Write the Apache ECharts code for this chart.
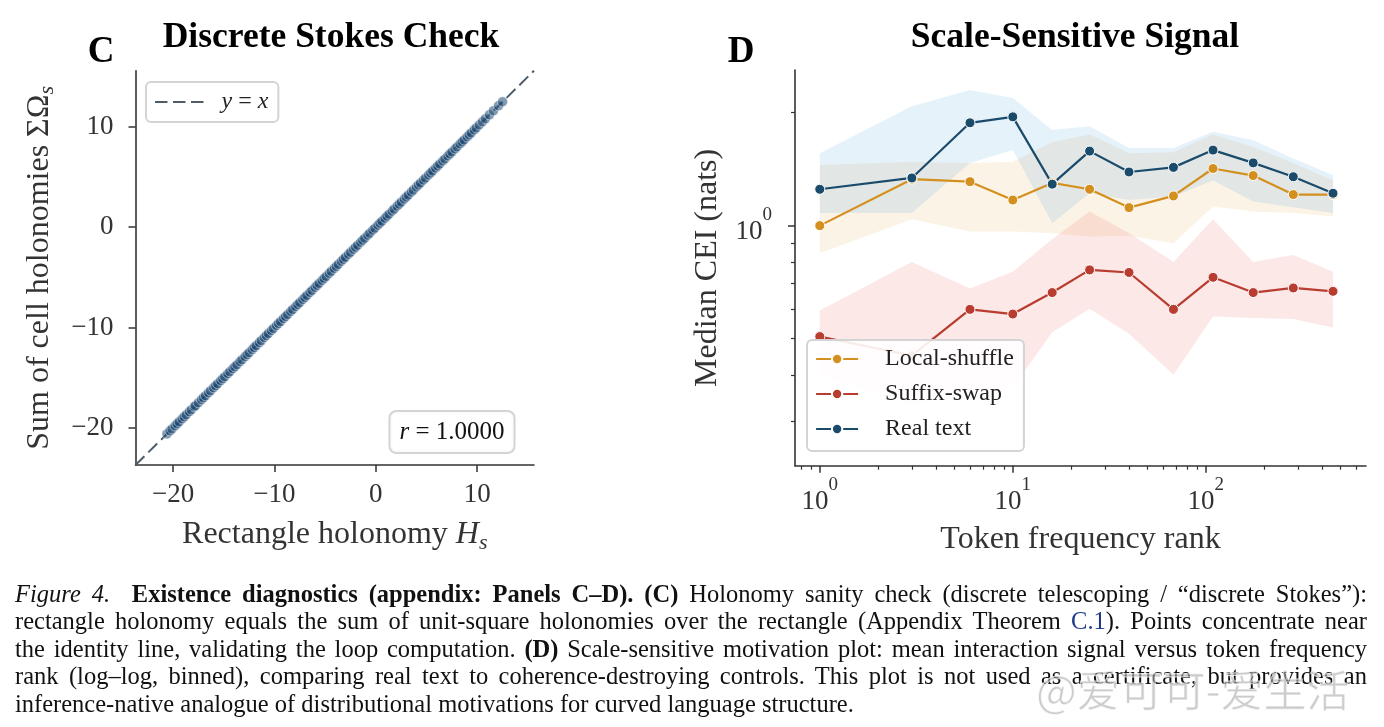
<!DOCTYPE html>
<html>
<head>
<meta charset="utf-8">
<script src="https://cdn.jsdelivr.net/npm/echarts@6/dist/echarts.min.js"></script>
<style>
html,body{margin:0;padding:0;background:#fff;}
#wrap{position:relative;width:1384px;height:727px;overflow:hidden;background:#fff;}
#chart{position:absolute;left:0;top:0;width:1384px;height:727px;}
.cap{position:absolute;left:15px;width:1352px;font-family:'Liberation Serif',serif;font-size:24.5px;line-height:27px;color:#111;text-align:justify;text-align-last:justify;white-space:nowrap;}
.cap.last{text-align-last:left;}
.cap b{font-weight:bold;}
.cap .lnk{color:#1f3a8a;}
#wm{position:absolute;left:1036px;top:662px;font-family:'Noto Sans CJK SC',sans-serif;font-size:43px;line-height:52px;color:rgba(170,170,170,0.6);-webkit-text-stroke:1px rgba(255,255,255,0.7);white-space:nowrap;}
</style>
</head>
<body>
<div id="wrap">
  <div id="chart"></div>
  <div class="cap" style="top:580px"><i>Figure 4.</i>&nbsp; <b>Existence diagnostics (appendix: Panels C–D). (C)</b> Holonomy sanity check (discrete telescoping / “discrete Stokes”):</div>
  <div class="cap" style="top:607px">rectangle holonomy equals the sum of unit-square holonomies over the rectangle (Appendix Theorem <span class="lnk">C.1</span>). Points concentrate near</div>
  <div class="cap" style="top:634.5px">the identity line, validating the loop computation. <b>(D)</b> Scale-sensitive motivation plot: mean interaction signal versus token frequency</div>
  <div class="cap" style="top:662px">rank (log–log, binned), comparing real text to coherence-destroying controls. This plot is not used as a certificate, but provides an</div>
  <div class="cap last" style="top:689.5px">inference-native analogue of distributional motivations for curved language structure.</div>
  <div id="wm">@爱可可-爱生活</div>
</div>
<script>
// ---------- Panel C data ----------
const rectHolonomy = [-20.6,-20.3,-20.1,-19.8,-19.6,-19.4,-19.1,-18.9,-18.7,-18.4,-18.2,-17.9,-17.8,-17.5,-17.2,-17.0,-16.8,-16.5,-16.3,-16.0,-15.8,-15.6,-15.3,-15.1,-14.9,-14.6,-14.4,-14.1,-13.9,-13.7,-13.4,-13.2,-12.9,-12.7,-12.5,-12.2,-12.0,-11.8,-11.5,-11.3,-11.0,-10.8,-10.6,-10.3,-10.1,-9.8,-9.6,-9.4,-9.1,-8.9,-8.7,-8.4,-8.2,-7.9,-7.7,-7.5,-7.2,-7.0,-6.8,-6.5,-6.3,-6.0,-5.8,-5.6,-5.3,-5.1,-4.9,-4.6,-4.4,-4.1,-3.9,-3.7,-3.4,-3.2,-3.0,-2.7,-2.5,-2.2,-2.0,-1.8,-1.5,-1.3,-1.1,-0.8,-0.6,-0.3,-0.1,0.2,0.4,0.6,0.9,1.1,1.3,1.6,1.8,2.1,2.3,2.5,2.8,3.0,3.2,3.5,3.7,4.0,4.2,4.4,4.7,4.9,5.2,5.4,5.6,5.9,6.1,6.3,6.6,6.8,7.1,7.3,7.5,7.8,8.0,8.3,8.5,8.7,9.0,9.2,9.4,9.7,9.9,10.2,10.5,10.8,11.2,11.6,12.1,12.5];
const cellHolonomySum = [-20.6,-20.3,-20.1,-19.8,-19.6,-19.4,-19.1,-18.9,-18.7,-18.4,-18.2,-17.9,-17.8,-17.5,-17.2,-17.0,-16.8,-16.5,-16.3,-16.0,-15.8,-15.6,-15.3,-15.1,-14.9,-14.6,-14.4,-14.1,-13.9,-13.7,-13.4,-13.2,-12.9,-12.7,-12.5,-12.2,-12.0,-11.8,-11.5,-11.3,-11.0,-10.8,-10.6,-10.3,-10.1,-9.8,-9.6,-9.4,-9.1,-8.9,-8.7,-8.4,-8.2,-7.9,-7.7,-7.5,-7.2,-7.0,-6.8,-6.5,-6.3,-6.0,-5.8,-5.6,-5.3,-5.1,-4.9,-4.6,-4.4,-4.1,-3.9,-3.7,-3.4,-3.2,-3.0,-2.7,-2.5,-2.2,-2.0,-1.8,-1.5,-1.3,-1.1,-0.8,-0.6,-0.3,-0.1,0.2,0.4,0.6,0.9,1.1,1.3,1.6,1.8,2.1,2.3,2.5,2.8,3.0,3.2,3.5,3.7,4.0,4.2,4.4,4.7,4.9,5.2,5.4,5.6,5.9,6.1,6.3,6.6,6.8,7.1,7.3,7.5,7.8,8.0,8.3,8.5,8.7,9.0,9.2,9.4,9.7,9.9,10.2,10.5,10.8,11.2,11.6,12.1,12.5];
const limitsC = [-23.7, 15.6];
const ticksC = [-20, -10, 0, 10];

// ---------- Panel D data ----------
const rankBins     = [1, 3, 6, 10, 16, 25, 40, 68, 109, 176, 284, 456];
const localShuffle = [1.00, 1.33, 1.31, 1.17, 1.30, 1.25, 1.117, 1.20, 1.42, 1.36, 1.21, 1.21];
const localLo      = [0.844, 1.04, 0.964, 0.964, 0.954, 0.935, 0.94, 0.898, 1.124, 1.09, 1.08, 1.057];
const localHi      = [1.45, 1.48, 1.47, 1.48, 1.67, 1.75, 1.56, 1.57, 1.75, 1.62, 1.47, 1.32];
const suffixSwap   = [0.506, 0.45, 0.598, 0.581, 0.663, 0.762, 0.75, 0.598, 0.728, 0.663, 0.682, 0.668];
const suffixLo     = [0.40, 0.33, 0.36, 0.37, 0.52, 0.60, 0.515, 0.40, 0.572, 0.567, 0.564, 0.535];
const suffixHi     = [0.594, 0.80, 0.68, 0.753, 0.92, 1.09, 0.956, 0.80, 1.04, 0.80, 0.835, 0.753];
const realText     = [1.25, 1.34, 1.88, 1.95, 1.29, 1.58, 1.39, 1.43, 1.59, 1.47, 1.35, 1.22];
const realLo       = [1.08, 1.08, 1.47, 1.59, 1.015, 1.22, 1.17, 1.195, 1.32, 1.16, 1.12, 1.08];
const realHi       = [1.56, 2.08, 2.30, 2.19, 1.80, 1.84, 1.61, 1.61, 1.78, 1.69, 1.51, 1.365];
const limitsDx = [0.744, 676];
const limitsDy = [0.229, 2.60];
const majorTicksDx = [1, 10, 100];
const minorTicksDx = [0.8, 0.9, 2, 3, 4, 5, 6, 7, 8, 9, 20, 30, 40, 50, 60, 70, 80, 90, 200, 300, 400, 500, 600];
const majorTicksDy = [1];
const minorTicksDy = [0.3, 0.4, 0.5, 0.6, 0.7, 0.8, 0.9, 2];

const FONT = 'Liberation Serif';
const AX = '#333333';
const TXT = '#333333';
const C_LOCAL = '#d4901f', C_SUFFIX = '#b83c2f', C_REAL = '#1b4b6b';

const chart = echarts.init(document.getElementById('chart'), null, {renderer: 'canvas'});

const minusFmt = v => String(v).replace('-', '\u2212');
const powFmt = v => '{b|10}{s|' + Math.round(Math.log10(v)) + '}';
const powRich = {
  b: {fontFamily: FONT, fontSize: 27, color: TXT, lineHeight: 40, verticalAlign: 'bottom'},
  s: {fontFamily: FONT, fontSize: 19, color: TXT, lineHeight: 19, verticalAlign: 'top'}
};
const nameRich = {
  it: {fontFamily: FONT, fontSize: 32, fontStyle: 'italic', color: TXT},
  sub: {fontFamily: FONT, fontSize: 22, fontStyle: 'italic', color: TXT, verticalAlign: 'bottom', lineHeight: 30}
};
const nameStyle = {fontFamily: FONT, fontSize: 32, color: TXT, lineHeight: 38, rich: nameRich};

function band(lo, hi, color) {
  return {
    type: 'custom', xAxisIndex: 1, yAxisIndex: 1, silent: true, z: 1,
    data: [[rankBins[0], lo[0]]],
    renderItem: function (params, api) {
      const pts = [];
      for (let i = 0; i < rankBins.length; i++) pts.push(api.coord([rankBins[i], hi[i]]));
      for (let i = rankBins.length - 1; i >= 0; i--) pts.push(api.coord([rankBins[i], lo[i]]));
      return {type: 'polygon', shape: {points: pts}, style: {fill: color, stroke: null}};
    }
  };
}
function lineD(name, vals, color) {
  return {
    name: name, type: 'line', xAxisIndex: 1, yAxisIndex: 1, z: 3,
    data: rankBins.map((r, i) => [r, vals[i]]),
    symbol: 'circle', symbolSize: 10, showSymbol: true,
    lineStyle: {color: color, width: 2.2},
    itemStyle: {color: color, borderColor: '#ffffff', borderWidth: 1},
    emphasis: {disabled: true}
  };
}

const option = {
  animation: false,
  backgroundColor: '#ffffff',
  title: [
    {text: 'Discrete Stokes Check', left: 331, top: 20, textAlign: 'center', padding: 0,
     textStyle: {fontFamily: FONT, fontWeight: 'bold', fontSize: 35.5, color: '#000'}},
    {text: 'Scale-Sensitive Signal', left: 1075, top: 20, textAlign: 'center', padding: 0,
     textStyle: {fontFamily: FONT, fontWeight: 'bold', fontSize: 35.5, color: '#000'}}
  ],
  legend: [
    {
      data: [{name: 'y = x', itemStyle: {opacity: 0}}],
      left: 146, top: 82, orient: 'vertical', selectedMode: false,
      itemWidth: 48.5, itemHeight: 14, padding: [8, 10, 8, 8],
      backgroundColor: 'rgba(255,255,255,0.85)', borderColor: '#d4d4d4', borderWidth: 2, borderRadius: 5,
      formatter: () => '{sp|}{i|y}{t| = }{i|x}',
      textStyle: {fontFamily: FONT, fontSize: 24, color: '#222',
        rich: {sp: {width: 13}, i: {fontFamily: FONT, fontSize: 24, fontStyle: 'italic', color: '#222'},
               t: {fontFamily: FONT, fontSize: 24, color: '#222'}}}
    },
    {
      data: ['Local-shuffle', 'Suffix-swap', 'Real text'],
      left: 807, top: 340, orient: 'vertical', selectedMode: false,
      itemWidth: 42, itemHeight: 13, itemGap: 11, padding: [7, 10, 10, 8],
      backgroundColor: 'rgba(255,255,255,0.9)', borderColor: '#d4d4d4', borderWidth: 2, borderRadius: 5,
      lineStyle: {width: 2.2},
      formatter: n => '{sp|}' + n,
      textStyle: {fontFamily: FONT, fontSize: 24, color: '#222', rich: {sp: {width: 22}}}
    }
  ],
  grid: [
    {left: 135.5, top: 70.7, width: 398.5, height: 394.3},
    {left: 795, top: 70, width: 571, height: 395.7}
  ],
  xAxis: [
    {
      gridIndex: 0, type: 'value', min: limitsC[0], max: limitsC[1], position: 'bottom',
      axisLine: {onZero: false, lineStyle: {color: AX, width: 1.6}},
      axisTick: {customValues: ticksC, length: 7, lineStyle: {color: AX, width: 1.5}},
      axisLabel: {customValues: ticksC, formatter: minusFmt, margin: 15, fontFamily: FONT, fontSize: 27, lineHeight: 30, color: TXT},
      splitLine: {show: false},
      name: 'Rectangle holonomy {it|H}{sub|s}', nameLocation: 'middle', nameGap: 51, nameTextStyle: nameStyle
    },
    {
      gridIndex: 1, type: 'log', logBase: 10, min: limitsDx[0], max: limitsDx[1], position: 'bottom',
      axisLine: {onZero: false, lineStyle: {color: AX, width: 1.6}},
      axisTick: {customValues: majorTicksDx, length: 7, lineStyle: {color: AX, width: 1.5}},
      axisLabel: {customValues: majorTicksDx, formatter: powFmt, rich: powRich, margin: 10, color: TXT},
      splitLine: {show: false}, minorTick: {show: false},
      name: 'Token frequency rank', nameLocation: 'middle', nameGap: 48, nameTextStyle: nameStyle
    },
    {
      gridIndex: 1, type: 'log', logBase: 10, min: limitsDx[0], max: limitsDx[1], position: 'bottom', offset: 0,
      axisLine: {show: false, onZero: false},
      axisTick: {customValues: minorTicksDx, length: 4, lineStyle: {color: AX, width: 1.2}},
      axisLabel: {show: false}, splitLine: {show: false}
    }
  ],
  yAxis: [
    {
      gridIndex: 0, type: 'value', min: limitsC[0], max: limitsC[1], position: 'left',
      axisLine: {show: true, onZero: false, lineStyle: {color: AX, width: 1.6}},
      axisTick: {show: true, customValues: ticksC, length: 7, lineStyle: {color: AX, width: 1.5}},
      axisLabel: {customValues: ticksC, formatter: minusFmt, margin: 22, fontFamily: FONT, fontSize: 27, color: TXT},
      splitLine: {show: false},
      name: 'Sum of cell holonomies \u03A3\u03A9{sub|s}', nameLocation: 'middle', nameGap: 77, nameTextStyle: nameStyle
    },
    {
      gridIndex: 1, type: 'log', logBase: 10, min: limitsDy[0], max: limitsDy[1], position: 'left',
      axisLine: {show: true, onZero: false, lineStyle: {color: AX, width: 1.6}},
      axisTick: {show: true, customValues: majorTicksDy, length: 7, lineStyle: {color: AX, width: 1.5}},
      axisLabel: {customValues: majorTicksDy, formatter: powFmt, rich: powRich, margin: 23, color: TXT},
      splitLine: {show: false}, minorTick: {show: false},
      name: 'Median CEI (nats)', nameLocation: 'middle', nameGap: 68, nameTextStyle: nameStyle
    },
    {
      gridIndex: 1, type: 'log', logBase: 10, min: limitsDy[0], max: limitsDy[1], position: 'left', offset: 0,
      axisLine: {show: false, onZero: false},
      axisTick: {show: true, customValues: minorTicksDy, length: 4, lineStyle: {color: AX, width: 1.2}},
      axisLabel: {show: false}, splitLine: {show: false}
    }
  ],
  series: [
    {
      name: 'y = x', type: 'line', xAxisIndex: 0, yAxisIndex: 0, z: 2,
      data: [[limitsC[0], limitsC[0]], [limitsC[1], limitsC[1]]],
      symbol: 'none', lineStyle: {color: '#4f5d6b', width: 2, type: [12.5, 5.5]},
      emphasis: {disabled: true}, silent: true
    },
    {
      name: 'pairs', type: 'scatter', xAxisIndex: 0, yAxisIndex: 0, z: 3,
      data: rectHolonomy.map((h, i) => [h, cellHolonomySum[i]]),
      symbolSize: 10,
      itemStyle: {color: 'rgba(26,70,112,0.68)', borderColor: 'rgba(255,255,255,0.6)', borderWidth: 0.9},
      emphasis: {disabled: true}, silent: true
    },
    band(localLo, localHi, 'rgba(230,140,20,0.10)'),
    band(suffixLo, suffixHi, 'rgba(231,76,60,0.13)'),
    band(realLo, realHi, 'rgba(52,152,219,0.13)'),
    lineD('Local-shuffle', localShuffle, C_LOCAL),
    lineD('Suffix-swap', suffixSwap, C_SUFFIX),
    lineD('Real text', realText, C_REAL)
  ],
  graphic: [
    {type: 'text', x: 101, y: 52, style: {text: 'C', fontFamily: FONT, fontWeight: 'bold', fontSize: 37, fill: '#000', align: 'center', verticalAlign: 'middle'}},
    {type: 'text', x: 741, y: 52, style: {text: 'D', fontFamily: FONT, fontWeight: 'bold', fontSize: 37, fill: '#000', align: 'center', verticalAlign: 'middle'}},
    {type: 'text', x: 452, y: 432, z: 10, style: {
      text: '{i|r}{t| = 1.0000}', align: 'center', verticalAlign: 'middle',
      backgroundColor: 'rgba(255,255,255,0.9)', borderColor: '#d4d4d4', borderWidth: 2, borderRadius: 6, padding: [5, 9, 5, 9],
      rich: {i: {fontFamily: FONT, fontSize: 25, fontStyle: 'italic', fill: '#111', lineHeight: 30},
             t: {fontFamily: FONT, fontSize: 25, fill: '#111', lineHeight: 30}}
    }}
  ]
};
chart.setOption(option);
</script>
</body>
</html>
